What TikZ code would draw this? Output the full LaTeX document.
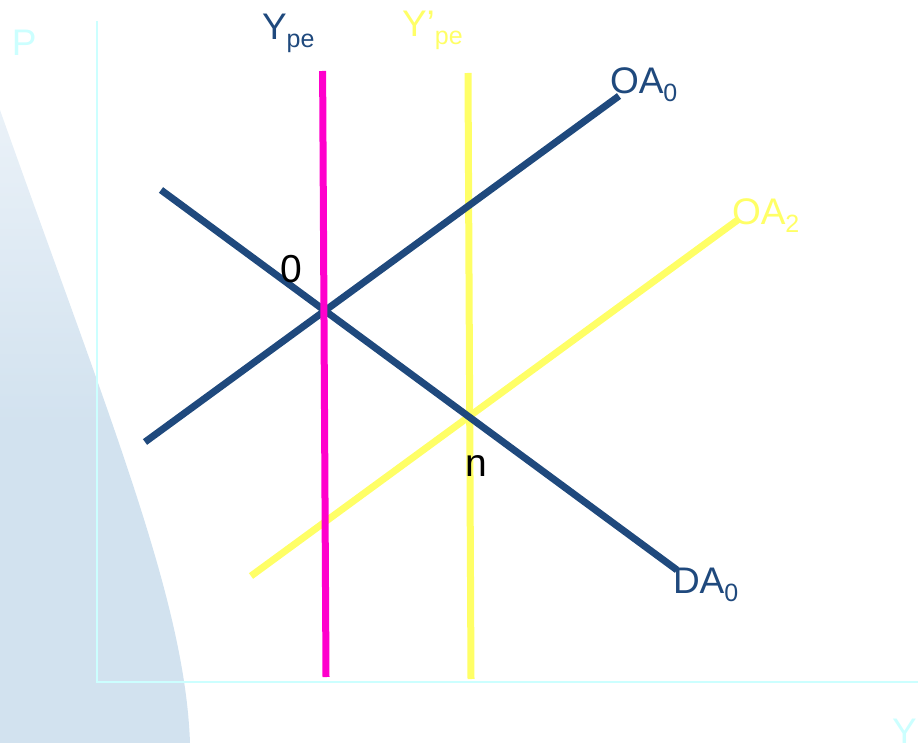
\documentclass[tikz,border=0pt]{standalone}
\usepackage{fontspec}
\setmainfont{Liberation Sans}
\definecolor{navy}{HTML}{1F497D}
\definecolor{lyellow}{HTML}{FFFF66}
\definecolor{mag}{HTML}{FF00CC}
\definecolor{axcyan}{HTML}{CCFFFF}
\definecolor{bgblueA}{HTML}{D2E2EF}
\definecolor{bgblueB}{HTML}{DCE8F3}
\newcommand{\lbsub}[1]{\raisebox{-8pt}{\fontsize{25}{25}\selectfont #1}}
\begin{document}
\begin{tikzpicture}[x=1pt,y=-1pt,
  curve/.style={line width=7pt},
  vline/.style={line width=7pt},
  lbl/.style={anchor=base west,inner sep=0pt,outer sep=0pt,font=\fontsize{37}{40}\selectfont}]
\useasboundingbox (0,0) rectangle (918,743);
% background shape
\shade[top color=bgblueB!60!white,bottom color=bgblueA,middle color=bgblueA]
  (0,110) .. controls (110,420) and (185,600) .. (190,743) -- (0,743) -- cycle;
% axes
\coordinate (ytop) at (97,21);
\coordinate (orig) at (97,682);
\coordinate (xend) at (918,682);
\draw[axcyan,line width=2pt] (ytop) -- (orig) -- (xend);
% coordinates
\coordinate (m1) at (322.6,71);
\coordinate (m2) at (326,677);
\coordinate (y1) at (468,73);
\coordinate (y2) at (471,679);
\coordinate (da1) at (161,190);
\coordinate (da2) at (677,570);
\coordinate (oa1) at (145,442);
\coordinate (oa2) at (619,96);
\coordinate (ob1) at (251,576);
\coordinate (ob2) at (739,219);
% lines (stacking as in reference)
\draw[lyellow,vline] (y1) -- (y2);
\draw[lyellow,curve] (ob1) -- (ob2);
\draw[navy,curve] (da1) -- (da2);
\draw[navy,curve] (oa1) -- (oa2);
\draw[mag,vline] (m1) -- (m2);
% labels
\node[lbl,text=axcyan] (P) at (12,56) {P};
\node[lbl,text=axcyan] (Yax) at (892,744) {Y};
\node[lbl,text=navy] (Ype) at (262,40) {Y\lbsub{pe}};
\node[lbl,text=lyellow] (Yppe) at (402,37) {Y’\lbsub{pe}};
\node[lbl,text=navy] (OA0) at (610,94) {OA\lbsub{0}};
\node[lbl,text=lyellow] (OA2) at (732,225) {OA\lbsub{2}};
\node[lbl,text=navy] (DA0) at (673,593) {DA\lbsub{0}};
\node[lbl,text=black,font=\fontsize{39}{40}\selectfont] (pt0) at (280,283) {0};
\node[lbl,text=black,font=\fontsize{39}{40}\selectfont] (ptn) at (465,476) {n};
\end{tikzpicture}
\end{document}
